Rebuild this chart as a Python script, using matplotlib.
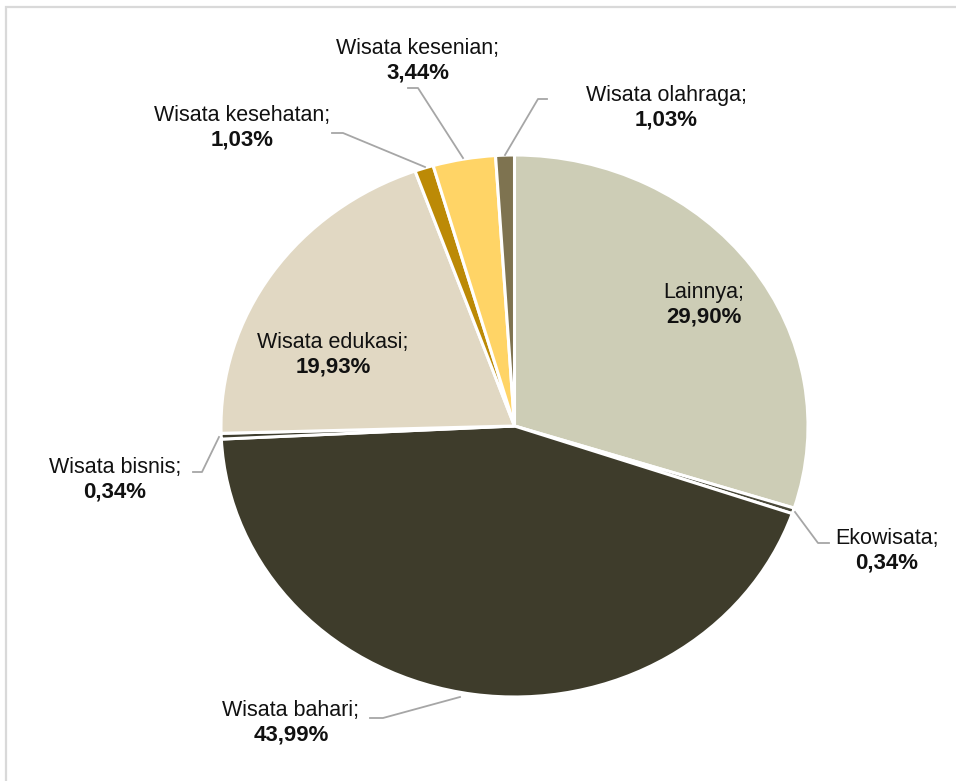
import matplotlib
matplotlib.use("Agg")
import matplotlib.pyplot as plt
from matplotlib.patches import Rectangle
from matplotlib.lines import Line2D

plt.rcParams['font.family'] = ['Liberation Sans', 'DejaVu Sans']

# ---- data ----
categories = ["Lainnya", "Ekowisata", "Wisata bahari", "Wisata bisnis",
              "Wisata edukasi", "Wisata kesehatan", "Wisata kesenian", "Wisata olahraga"]
values = [29.90, 0.34, 43.99, 0.34, 19.93, 1.03, 3.44, 1.03]
value_labels = ["29,90%", "0,34%", "43,99%", "0,34%", "19,93%", "1,03%", "3,44%", "1,03%"]
colors = ["#CDCDB6", "#4A493A", "#3E3C2B", "#3E3D2E", "#E1D8C3", "#BC8A06", "#FFD466", "#7E7350"]

# ---- layout (pixels in 956x781 image) ----
W, H = 956, 781
cx, cy, rx, ry = 514.5, 426.0, 293.5, 271.0

def to_data(px, py):
    return (px - cx) / rx, (cy - py) / ry

# label centre x, baseline of name line (value line 24.5 px below)
label_pos = {
    "Lainnya": (704, 298),
    "Ekowisata": (887, 544),
    "Wisata bahari": (291, 716),
    "Wisata bisnis": (115, 473),
    "Wisata edukasi": (333, 348),
    "Wisata kesehatan": (242, 121),
    "Wisata kesenian": (418, 54),
    "Wisata olahraga": (666, 101),
}
leaders = {
    "Ekowisata": [(795, 512), (818, 543), (829, 543)],
    "Wisata bahari": [(370, 718), (383, 718), (460, 697)],
    "Wisata bisnis": [(193, 472), (202, 472), (219, 437)],
    "Wisata kesehatan": [(332, 133), (343, 133), (425, 167)],
    "Wisata kesenian": [(408, 88), (418, 88), (463, 158)],
    "Wisata olahraga": [(547, 99), (538, 99), (505, 155)],
}

fig = plt.figure(figsize=(W / 100, H / 100), dpi=100)
fig.patch.set_facecolor("white")

# outer frame (only top/left visible)
fig.add_artist(Rectangle((6 / W, -0.1), 1.2, (H - 7) / H + 0.1, transform=fig.transFigure,
                         fill=False, edgecolor="#D9D9D9", linewidth=1.6))

ax = fig.add_axes([(cx - rx) / W, 1 - (cy + ry) / H, 2 * rx / W, 2 * ry / H])
ax.pie(values, colors=colors, startangle=90, counterclock=False, radius=1,
       wedgeprops=dict(edgecolor="white", linewidth=2.2))
ax.set_aspect("auto")
ax.set_xlim(-1, 1)
ax.set_ylim(-1, 1)
ax.axis("off")

for name, (px, py) in label_pos.items():
    i = categories.index(name)
    x1, y1 = to_data(px, py)
    x2, y2 = to_data(px, py + 24.5)
    ax.text(x1, y1, name + ";", ha="center", va="baseline", fontsize=15.5,
            color="#111111", clip_on=False)
    ax.text(x2, y2, value_labels[i], ha="center", va="baseline", fontsize=16,
            fontweight="bold", color="#111111", clip_on=False)

for name, pts in leaders.items():
    xs, ys = zip(*[to_data(p, q) for p, q in pts])
    ax.add_line(Line2D(xs, ys, color="#A6A6A6", linewidth=1.3, clip_on=False))

fig.savefig("out.png", dpi=100)
